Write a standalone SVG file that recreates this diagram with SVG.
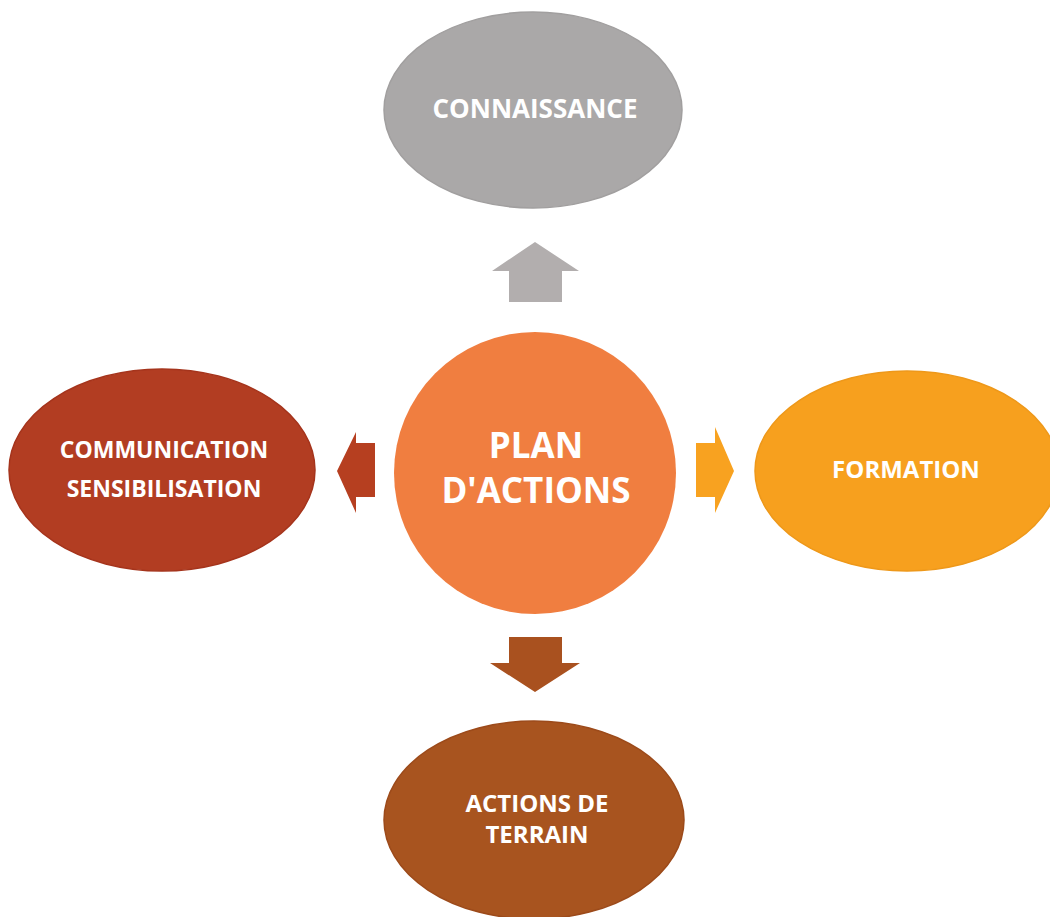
<svg xmlns="http://www.w3.org/2000/svg" width="1050" height="917" viewBox="0 0 1050 917">
<style>
.lbl{font-family:"Open Sans","Liberation Sans",sans-serif;font-weight:bold;fill:#ffffff;text-anchor:middle}
</style>
<rect width="1050" height="917" fill="#ffffff"/>
<g id="connectors">
<polygon id="arrow-up" points="535,242 579,271 562,271 562,302 509,302 509,271 492,271" fill="#b2aeae"/>
<polygon id="arrow-left" points="337,471 356,432 356,443 375,443 375,497 356,497 356,513" fill="#b63f20"/>
<polygon id="arrow-right" points="734,471 715,427 715,443 696,443 696,497 715,497 715,513" fill="#f8a220"/>
<polygon id="arrow-down" points="535,692 580,663 562,663 562,637 509,637 509,663 490,663" fill="#a9511f"/>
</g>
<g id="connaissance">
<ellipse cx="533" cy="110" rx="149" ry="98" fill="#aaa8a8" stroke="#a19f9f" stroke-width="1.5"/>
<text class="lbl" x="535" y="118" font-size="26">CONNAISSANCE</text>
</g>
<g id="plan">
<circle cx="535" cy="473" r="141" fill="#f07e40"/>
<text class="lbl" x="536" y="458" font-size="35">PLAN</text>
<text class="lbl" x="536" y="503" font-size="35">D'ACTIONS</text>
</g>
<g id="communication">
<ellipse cx="162" cy="470" rx="153" ry="101" fill="#b23d22" stroke="#a5341c" stroke-width="1.5"/>
<text class="lbl" x="164" y="458" font-size="23">COMMUNICATION</text>
<text class="lbl" x="164" y="497" font-size="23">SENSIBILISATION</text>
</g>
<g id="formation">
<ellipse cx="907" cy="471" rx="152" ry="100" fill="#f7a01e" stroke="#ee981a" stroke-width="1.5"/>
<text class="lbl" x="906" y="478" font-size="24">FORMATION</text>
</g>
<g id="terrain">
<ellipse cx="534" cy="820" rx="150" ry="99" fill="#a8541f" stroke="#9c4a1a" stroke-width="1.5"/>
<text class="lbl" x="537" y="812" font-size="24">ACTIONS DE</text>
<text class="lbl" x="537" y="843" font-size="24">TERRAIN</text>
</g>
</svg>
